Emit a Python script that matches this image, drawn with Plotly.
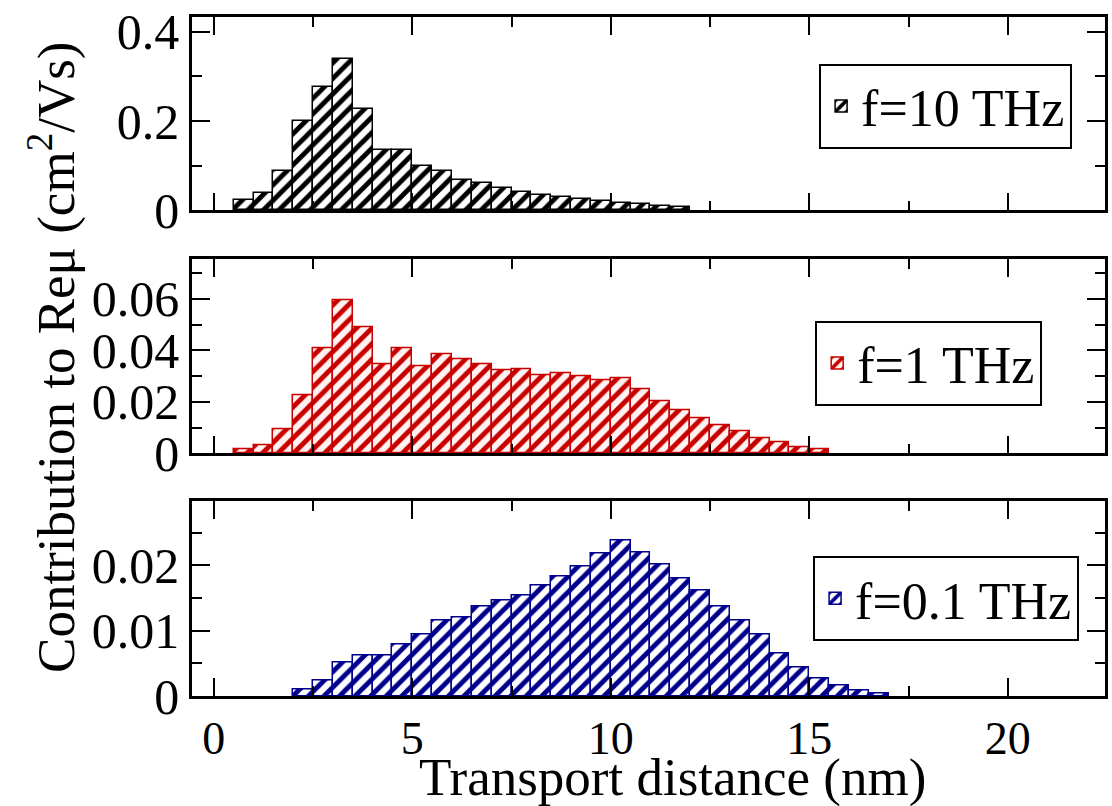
import plotly.graph_objects as go
from plotly.subplots import make_subplots

# ---------------- data ----------------
# bin centres (nm), bin width 0.5 nm
x_10 = [0.75, 1.25, 1.75, 2.25, 2.75, 3.25, 3.75, 4.25, 4.75, 5.25, 5.75, 6.25,
        6.75, 7.25, 7.75, 8.25, 8.75, 9.25, 9.75, 10.25, 10.75, 11.25, 11.75]
y_10 = [0.024, 0.039, 0.087, 0.200, 0.276, 0.339, 0.228, 0.136, 0.136, 0.100, 0.087, 0.068,
        0.060, 0.051, 0.041, 0.035, 0.030, 0.026, 0.021, 0.016, 0.013, 0.010, 0.007]

x_1 = [0.75, 1.25, 1.75, 2.25, 2.75, 3.25, 3.75, 4.25, 4.75, 5.25, 5.75, 6.25, 6.75, 7.25, 7.75,
       8.25, 8.75, 9.25, 9.75, 10.25, 10.75, 11.25, 11.75, 12.25, 12.75, 13.25, 13.75, 14.25,
       14.75, 15.25]
y_1 = [0.0015, 0.0032, 0.0095, 0.0225, 0.0408, 0.0595, 0.0489, 0.0348, 0.0408, 0.0340, 0.0385,
       0.0366, 0.0347, 0.0322, 0.0327, 0.0302, 0.0311, 0.0300, 0.0285, 0.0293, 0.0248, 0.0203,
       0.0167, 0.0135, 0.0109, 0.0086, 0.0060, 0.0042, 0.0025, 0.0015]

x_01 = [2.25, 2.75, 3.25, 3.75, 4.25, 4.75, 5.25, 5.75, 6.25, 6.75, 7.25, 7.75, 8.25, 8.75,
        9.25, 9.75, 10.25, 10.75, 11.25, 11.75, 12.25, 12.75, 13.25, 13.75, 14.25, 14.75,
        15.25, 15.75, 16.25, 16.75]
y_01 = [0.0010, 0.0024, 0.0052, 0.0062, 0.0062, 0.0079, 0.0095, 0.0116, 0.0120, 0.0137, 0.0147,
        0.0154, 0.0169, 0.0183, 0.0198, 0.0219, 0.0238, 0.0220, 0.0201, 0.0180, 0.0161, 0.0137,
        0.0115, 0.0095, 0.0065, 0.0044, 0.0027, 0.0016, 0.0008, 0.0004]

labels = ["f=10 THz", "f=1 THz", "f=0.1 THz"]
bin_width = 0.5

FONT = "Liberation Serif, Times New Roman, serif"

fig = make_subplots(rows=3, cols=1, shared_xaxes=False, vertical_spacing=0.0)

series = [
    (x_10, y_10, "black", "white", "legend", 1),
    (x_1, y_1, "#c80000", "#fff2f0", "legend2", 2),
    (x_01, y_01, "#00008c", "white", "legend3", 3),
]
for (xs, ys, fg, bg, leg, row), lab in zip(series, labels):
    fig.add_trace(go.Bar(
        x=xs, y=ys, width=bin_width, name=lab, legend=leg,
        marker=dict(color=bg, line=dict(color=fg, width=1.5),
                    pattern=dict(shape="/", fgcolor=fg, bgcolor=bg, size=11,
                                 solidity=0.45, fillmode="replace")),
        showlegend=True,
    ), row=row, col=1)

W, H = 1112, 806
L, R, T, B = 192, 4, 12, 110
ph = H - T - B  # 684

def dom(top_px, bot_px):
    return [(H - B - bot_px) / ph, (H - B - top_px) / ph]

fig.update_layout(
    width=W, height=H,
    margin=dict(l=L, r=R, t=T, b=B),
    plot_bgcolor="white", paper_bgcolor="white",
    bargap=0,
    font=dict(family=FONT, size=50, color="black"),
    yaxis=dict(domain=dom(12, 206.7)),
    yaxis2=dict(domain=dom(256, 451.6)),
    yaxis3=dict(domain=dom(500, 696)),
)

xr = [-0.55, 22.45]
for i in (1, 2, 3):
    fig.update_xaxes(
        range=xr, showgrid=False, zeroline=False,
        showline=True, linecolor="black", linewidth=2.5, mirror="ticks",
        ticks="inside", ticklen=18, tickwidth=1.5, tickcolor="black",
        tickvals=[0, 5, 10, 15, 20],
        minor=dict(tickvals=[2.5, 7.5, 12.5, 17.5, 22.5], ticks="inside",
                   ticklen=10, tickwidth=1.5, tickcolor="black"),
        showticklabels=(i == 3),
        ticklabeloverflow="allow",
        tickfont=dict(family=FONT, size=46),
        row=i, col=1)

yspecs = [
    ([0, 0.433], [0, 0.2, 0.4], ["0", "0.2", "0.4"], [0.1, 0.3]),
    ([0, 0.0754], [0, 0.02, 0.04, 0.06], ["0", "0.02", "0.04", "0.06"], [0.01, 0.03, 0.05, 0.07]),
    ([0, 0.0298], [0, 0.01, 0.02], ["0", "0.01", "0.02"], [0.005, 0.015, 0.025]),
]
for i, (rg, tv, tt, mv) in enumerate(yspecs, start=1):
    fig.update_yaxes(
        range=rg, showgrid=False, zeroline=False,
        showline=True, linecolor="black", linewidth=2.5, mirror="ticks",
        ticks="inside", ticklen=18, tickwidth=1.5, tickcolor="black",
        tickvals=tv, ticktext=tt,
        minor=dict(tickvals=mv, ticks="inside", ticklen=10, tickwidth=1.5, tickcolor="black"),
        ticklabeloverflow="allow",
        tickfont=dict(family=FONT, size=50),
        row=i, col=1)

def legend_cfg(xpx, ypx):
    return dict(
        x=(xpx - L) / (W - L - R), y=(H - B - ypx) / ph,
        xanchor="right", yanchor="top",
        bgcolor="white", bordercolor="black", borderwidth=2,
        font=dict(family=FONT, size=52, color="black"),
        itemwidth=30, tracegroupgap=0,
    )

fig.update_layout(
    legend=legend_cfg(1075, 59),
    legend2=legend_cfg(1045, 318),
    legend3=legend_cfg(1082, 555),
)

# axis titles
fig.add_annotation(
    text="Contribution to Reμ (cm<sup>2</sup>/Vs)", textangle=-90,
    xref="paper", yref="paper", x=(52 - L) / (W - L - R), y=(H - B - 355) / ph,
    xanchor="center", yanchor="middle", showarrow=False,
    font=dict(family=FONT, size=53, color="black"))
fig.add_annotation(
    text="Transport distance (nm)",
    xref="paper", yref="paper", x=(674 - L) / (W - L - R), y=(H - B - 778) / ph,
    xanchor="center", yanchor="middle", showarrow=False,
    font=dict(family=FONT, size=53, color="black"))

fig.write_html("out.html")
